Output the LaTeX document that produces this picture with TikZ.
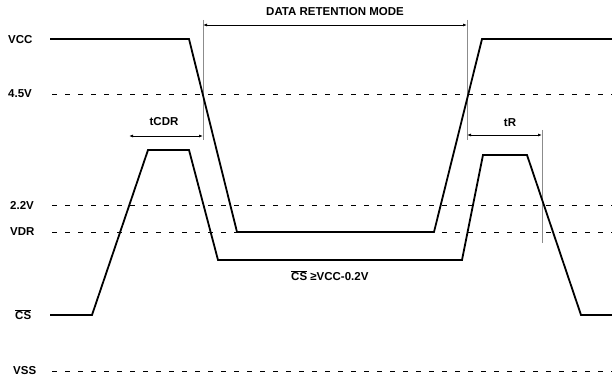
\documentclass[tikz,border=0pt]{standalone}
\usepackage{fontspec}
\setmainfont{Liberation Sans}
\usetikzlibrary{arrows.meta}
\begin{document}
\begin{tikzpicture}[x=1pt,y=-1pt,
  lbl/.style={font=\fontsize{11.5}{13}\selectfont\bfseries, inner sep=0pt},
  wave/.style={line width=1.8pt, line join=miter},
  refline/.style={line width=0.8pt, dash pattern=on 5pt off 8pt},
  guide/.style={line width=0.6pt, black!45},
  dimline/.style={line width=0.8pt, {Latex[length=4pt,width=3pt]}-{Latex[length=4pt,width=3pt]}}]
\useasboundingbox[fill=white] (0,0) rectangle (612,379);

% level labels
\node[lbl, anchor=west] (lvcc) at (8,40) {VCC};
\node[lbl, anchor=west] (l45) at (8,94) {4.5V};
\node[lbl, anchor=west] (l22) at (10,205) {2.2V};
\node[lbl, anchor=west] (lvdr) at (10,232) {VDR};
\node[lbl, anchor=west] (lcs) at (15,315) {$\overline{\hbox{\bfseries CS}}$};
\node[lbl, anchor=west] (lvss) at (13,371) {VSS};

% dashed reference levels
\coordinate (a45) at (52,94);  \coordinate (b45) at (612,94);
\coordinate (a22) at (52,205); \coordinate (b22) at (612,205);
\coordinate (avdr) at (52,232); \coordinate (bvdr) at (612,232);
\coordinate (avss) at (52,371); \coordinate (bvss) at (612,371);
\draw[refline] (a45) -- (b45);
\draw[refline] (a22) -- (b22);
\draw[refline] (avdr) -- (bvdr);
\draw[refline] (avss) -- (bvss);

% guide lines
\coordinate (g1t) at (203,20); \coordinate (g1b) at (203,140);
\coordinate (g2t) at (467,20); \coordinate (g2b) at (467,140);
\coordinate (g3t) at (542,130); \coordinate (g3b) at (542,243);
\draw[guide] (g1t) -- (g1b);
\draw[guide] (g2t) -- (g2b);
\draw[guide] (g3t) -- (g3b);

% VCC waveform
\coordinate (v0) at (50,39);
\coordinate (v1) at (189,39);
\coordinate (v2) at (237,232);
\coordinate (v3) at (434,232);
\coordinate (v4) at (482,39);
\coordinate (v5) at (612,39);
\draw[wave] (v0) -- (v1) -- (v2) -- (v3) -- (v4) -- (v5);

% CS waveform
\coordinate (c0) at (50,315);
\coordinate (c1) at (92,315);
\coordinate (c2) at (148,150);
\coordinate (c3) at (189,150);
\coordinate (c4) at (218,260);
\coordinate (c5) at (462,260);
\coordinate (c6) at (483,155);
\coordinate (c7) at (527,155);
\coordinate (c8) at (581,315);
\coordinate (c9) at (612,315);
\draw[wave] (c0) -- (c1) -- (c2) -- (c3) -- (c4) -- (c5) -- (c6) -- (c7) -- (c8) -- (c9);

% dimension arrows
\coordinate (drl) at (203,25); \coordinate (drr) at (467,25);
\draw[dimline] (drl) -- (drr);
\node[lbl] (tdr) at (335,12) {DATA RETENTION MODE};

\coordinate (tcl) at (129,136); \coordinate (tcr) at (203,136);
\draw[dimline] (tcl) -- (tcr);
\node[lbl] (ttcdr) at (164,122) {tCDR};

\coordinate (trl) at (467,135); \coordinate (trr) at (542,135);
\draw[dimline] (trl) -- (trr);
\node[lbl] (ttr) at (510,123) {tR};

\node[lbl, anchor=west] (tcs) at (291,276) {$\overline{\hbox{\bfseries CS}}$ \char"2265 VCC-0.2V};
\end{tikzpicture}
\end{document}
